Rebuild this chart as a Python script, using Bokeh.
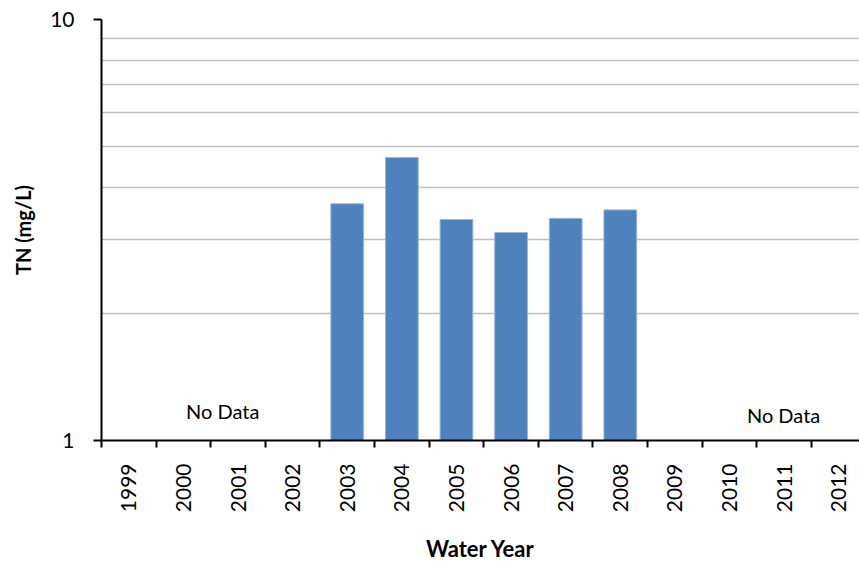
import math
from bokeh.plotting import figure
from bokeh.models import (Range1d, FixedTicker, Label, ColumnDataSource,
                          BasicTickFormatter)
from bokeh.embed import file_html
from bokeh.resources import INLINE

years = ["1999", "2000", "2001", "2002", "2003", "2004", "2005",
         "2006", "2007", "2008", "2009", "2010", "2011", "2012"]
data_years = ["2003", "2004", "2005", "2006", "2007", "2008"]
tn_values = [3.65, 4.70, 3.35, 3.12, 3.37, 3.53]
y_ticks = [1, 10]
y_minor = [2, 3, 4, 5, 6, 7, 8, 9]
no_data_label = "No Data"

FONT = "Lato"

x_idx = [years.index(y) for y in data_years]
src = ColumnDataSource(dict(x=x_idx, top=tn_values, bottom=[1] * len(tn_values)))

p = figure(width=859, height=567, output_backend="svg", toolbar_location=None,
           y_axis_type="log", x_range=Range1d(-0.5, 13.38), y_range=Range1d(1, 10),
           min_border_left=101, min_border_top=19, min_border_right=0, min_border_bottom=127)
p.outline_line_color = None
p.background_fill_color = "white"

p.vbar(x="x", top="top", bottom="bottom", width=0.6, source=src,
       fill_color="#4f81bd", line_color="#9cb6da", line_width=1)

# y axis
ya = p.yaxis[0]
ya.ticker = FixedTicker(ticks=y_ticks, minor_ticks=y_minor)
ya.formatter = BasicTickFormatter()
ya.major_label_overrides = {1: "1", 10: "10"}
ya.axis_line_color = "black"
ya.axis_line_width = 2
ya.major_tick_line_color = "black"
ya.major_tick_line_width = 2
ya.major_tick_in = 0
ya.major_tick_out = 8
ya.minor_tick_line_color = None
ya.major_label_standoff = 19
ya.major_label_text_font = FONT
ya.major_label_text_font_size = "21px"
ya.major_label_text_color = "black"
ya.axis_label = "TN (mg/L)"
ya.axis_label_text_font = FONT
ya.axis_label_text_font_size = "20px"
ya.axis_label_text_font_style = "bold"
ya.axis_label_text_color = "black"
ya.axis_label_standoff = 12

# x axis
xa = p.xaxis[0]
centers = list(range(len(years)))
xa.ticker = FixedTicker(ticks=centers, minor_ticks=[c - 0.5 for c in centers] + [len(years) - 0.5])
xa.major_label_overrides = {c: y for c, y in zip(centers, years)}
xa.major_label_orientation = math.pi / 2
xa.axis_line_color = "black"
xa.axis_line_width = 2
xa.major_tick_line_color = None
xa.major_tick_in = 0
xa.major_tick_out = 0
xa.minor_tick_line_color = "black"
xa.minor_tick_line_width = 2
xa.minor_tick_in = 0
xa.minor_tick_out = 7
xa.major_label_standoff = 16
xa.major_label_text_font = FONT
xa.major_label_text_font_size = "21px"
xa.major_label_text_color = "black"
xa.axis_label = "Water Year"
xa.axis_label_text_font = FONT
xa.axis_label_text_font_size = "22px"
xa.axis_label_text_font_style = "bold"
xa.axis_label_text_color = "black"
xa.axis_label_standoff = 20

# grids
p.xgrid.grid_line_color = None
p.ygrid.ticker = ya.ticker
p.ygrid.grid_line_color = "black"
p.ygrid.grid_line_width = 2
p.ygrid.minor_grid_line_color = "#bfbfbf"
p.ygrid.minor_grid_line_width = 1.5

# No Data annotations
for xx, yy in [(2.22 - 0.5, 1.178), (12.49 - 0.5, 1.147)]:
    p.add_layout(Label(x=xx, y=yy, text=no_data_label, text_align="center",
                       text_baseline="middle", text_font=FONT, text_font_size="20px",
                       text_color="black"))

open("out.html", "w").write(file_html(p, INLINE))
